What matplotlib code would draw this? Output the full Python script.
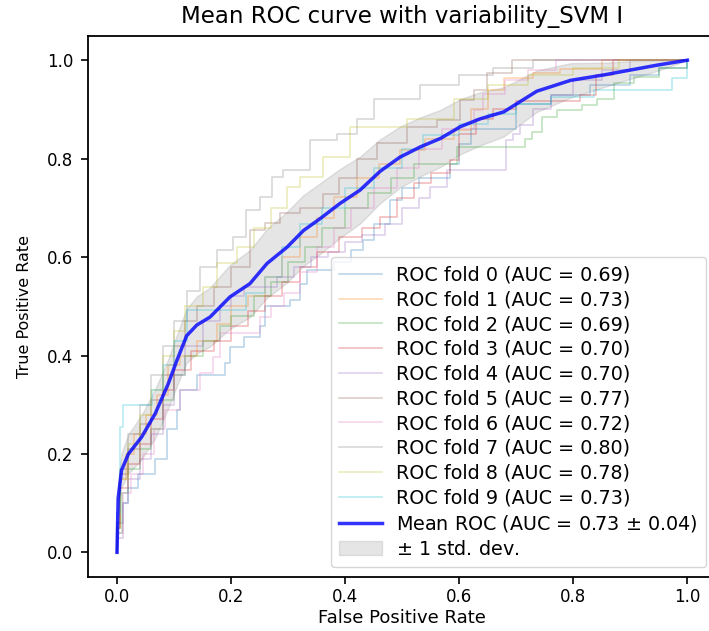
"""Mean ROC curve with variability (10 folds)"""

import numpy as np
import matplotlib
matplotlib.use("Agg")
import matplotlib.pyplot as plt

TITLE = "Mean ROC curve with variability_SVM I"

# per-fold ROC staircases: at each fpr the curve rises to tpr
fold_fpr = [
    [0, 0, 0.01, 0.02, 0.037, 0.067, 0.087, 0.105, 0.11, 0.14, 0.19, 0.198, 0.222, 0.251, 0.26, 0.304,
     0.321, 0.333, 0.38, 0.41, 0.432, 0.45, 0.479, 0.50, 0.53, 0.584, 0.60, 0.62, 0.70, 0.76, 0.83,
     0.90, 0.95, 1.0],
    [0, 0, 0.005, 0.015, 0.03, 0.05, 0.07, 0.09, 0.11, 0.14, 0.175, 0.2, 0.23, 0.26, 0.29, 0.32, 0.35,
     0.38, 0.42, 0.46, 0.496, 0.54, 0.59, 0.62, 0.65, 0.678, 0.73, 0.777, 0.85, 1.0],
    [0, 0, 0.008, 0.02, 0.04, 0.06, 0.08, 0.1, 0.12, 0.15, 0.18, 0.2, 0.24, 0.27, 0.3, 0.33, 0.36, 0.40,
     0.44, 0.48, 0.52, 0.596, 0.716, 0.727, 0.745, 0.771, 0.815, 0.841, 0.871, 0.906, 0.95, 1.0],
    [0, 0, 0.005, 0.02, 0.04, 0.06, 0.08, 0.1, 0.13, 0.17, 0.2, 0.23, 0.26, 0.29, 0.32, 0.35, 0.39, 0.43,
     0.461, 0.49, 0.52, 0.55, 0.584, 0.60, 0.63, 0.66, 0.70, 0.812, 0.84, 0.87, 1.0],
    [0, 0, 0.01, 0.02, 0.04, 0.06, 0.08, 0.1, 0.12, 0.15, 0.18, 0.2, 0.222, 0.28, 0.31, 0.34, 0.37, 0.40,
     0.43, 0.47, 0.50, 0.53, 0.549, 0.578, 0.682, 0.695, 0.707, 0.73, 0.76, 0.80, 0.85, 0.9, 1.0],
    [0, 0, 0.005, 0.02, 0.04, 0.06, 0.08, 0.1, 0.12, 0.14, 0.17, 0.2, 0.233, 0.26, 0.286, 0.32, 0.362,
     0.39, 0.42, 0.456, 0.508, 0.561, 0.602, 0.625, 0.649, 0.692, 1.0],
    [0, 0, 0.01, 0.025, 0.045, 0.065, 0.085, 0.11, 0.146, 0.169, 0.18, 0.251, 0.27, 0.292, 0.32, 0.35,
     0.38, 0.41, 0.45, 0.49, 0.53, 0.57, 0.625, 0.642, 0.68, 0.72, 0.77, 1.0],
    [0, 0, 0.005, 0.02, 0.04, 0.06, 0.08, 0.1, 0.122, 0.146, 0.175, 0.204, 0.227, 0.251, 0.271, 0.291,
     0.339, 0.385, 0.42, 0.45, 0.532, 0.6, 0.66, 0.73, 1.0],
    [0, 0, 0.005, 0.02, 0.04, 0.06, 0.08, 0.1, 0.12, 0.15, 0.175, 0.21, 0.24, 0.27, 0.298, 0.321, 0.362,
     0.409, 0.508, 0.59, 0.65, 0.72, 0.80, 0.88, 1.0],
    [0, 0, 0.005, 0.011, 0.061, 0.08, 0.10, 0.122, 0.227, 0.26, 0.29, 0.321, 0.36, 0.40, 0.45, 0.50,
     0.537, 0.6, 0.65, 0.70, 0.76, 0.836, 0.973, 1.0],
]
fold_tpr = [
    [0, 0.06, 0.10, 0.13, 0.16, 0.19, 0.25, 0.29, 0.33, 0.36, 0.384, 0.417, 0.438, 0.46, 0.50, 0.512,
     0.546, 0.573, 0.59, 0.614, 0.634, 0.668, 0.715, 0.74, 0.76, 0.79, 0.83, 0.86, 0.91, 0.93, 0.95,
     0.97, 0.985, 1.0],
    [0, 0.05, 0.15, 0.2, 0.24, 0.28, 0.32, 0.38, 0.40, 0.43, 0.465, 0.50, 0.52, 0.56, 0.60, 0.64, 0.68,
     0.722, 0.76, 0.79, 0.817, 0.84, 0.858, 0.90, 0.94, 0.963, 0.975, 0.983, 1.0, 1.0],
    [0, 0.04, 0.12, 0.17, 0.21, 0.25, 0.31, 0.36, 0.40, 0.43, 0.46, 0.48, 0.52, 0.55, 0.59, 0.62, 0.66,
     0.70, 0.73, 0.76, 0.79, 0.824, 0.84, 0.855, 0.885, 0.898, 0.909, 0.922, 0.953, 0.966, 0.985, 1.0],
    [0, 0.05, 0.13, 0.18, 0.22, 0.27, 0.33, 0.37, 0.41, 0.43, 0.46, 0.49, 0.52, 0.55, 0.58, 0.61, 0.64,
     0.66, 0.682, 0.72, 0.75, 0.77, 0.797, 0.85, 0.88, 0.90, 0.917, 0.93, 0.97, 1.0, 1.0],
    [0, 0.03, 0.10, 0.15, 0.19, 0.24, 0.30, 0.36, 0.42, 0.47, 0.50, 0.52, 0.539, 0.56, 0.58, 0.60, 0.61,
     0.63, 0.645, 0.668, 0.70, 0.72, 0.742, 0.776, 0.837, 0.851, 0.868, 0.90, 0.93, 0.96, 0.98, 1.0, 1.0],
    [0, 0.06, 0.16, 0.21, 0.26, 0.31, 0.36, 0.42, 0.47, 0.50, 0.54, 0.58, 0.654, 0.67, 0.689, 0.70, 0.729,
     0.76, 0.80, 0.831, 0.865, 0.878, 0.919, 0.939, 0.973, 1.0, 1.0],
    [0, 0.04, 0.12, 0.16, 0.20, 0.25, 0.29, 0.33, 0.364, 0.397, 0.445, 0.478, 0.50, 0.526, 0.57, 0.62,
     0.66, 0.70, 0.74, 0.78, 0.82, 0.86, 0.898, 0.932, 0.96, 0.98, 1.0, 1.0],
    [0, 0.05, 0.17, 0.24, 0.30, 0.36, 0.42, 0.47, 0.532, 0.58, 0.614, 0.641, 0.695, 0.722, 0.763, 0.776,
     0.837, 0.851, 0.881, 0.922, 0.95, 0.97, 0.985, 1.0, 1.0],
    [0, 0.05, 0.15, 0.22, 0.28, 0.33, 0.40, 0.45, 0.50, 0.54, 0.587, 0.62, 0.66, 0.70, 0.743, 0.763, 0.804,
     0.865, 0.881, 0.922, 0.95, 0.97, 0.985, 1.0, 1.0],
    [0, 0.08, 0.255, 0.299, 0.33, 0.38, 0.43, 0.492, 0.526, 0.56, 0.62, 0.668, 0.70, 0.74, 0.78, 0.82,
     0.848, 0.87, 0.89, 0.91, 0.925, 0.939, 0.963, 1.0],
]
fold_auc = [0.69, 0.73, 0.69, 0.70, 0.70, 0.77, 0.72, 0.80, 0.78, 0.73]

# mean curve and its spread
mean_fpr = [0, 0.002, 0.008, 0.02, 0.043, 0.067, 0.09, 0.105, 0.122, 0.14, 0.163, 0.198, 0.233,
            0.263, 0.298, 0.327, 0.356, 0.391, 0.426, 0.461, 0.496, 0.532, 0.567, 0.602, 0.637,
            0.678, 0.736, 0.795, 0.853, 0.9, 0.947, 1.0]
mean_tpr = [0, 0.11, 0.167, 0.20, 0.234, 0.282, 0.343, 0.39, 0.44, 0.462, 0.478, 0.519, 0.546,
            0.587, 0.62, 0.654, 0.678, 0.709, 0.736, 0.774, 0.803, 0.824, 0.841, 0.865, 0.881,
            0.895, 0.937, 0.959, 0.97, 0.98, 0.99, 1.0]
std_tpr = [0, 0.03, 0.035, 0.04, 0.045, 0.05, 0.05, 0.052, 0.055, 0.058, 0.06, 0.065, 0.068,
           0.07, 0.072, 0.072, 0.072, 0.07, 0.068, 0.065, 0.062, 0.06, 0.058, 0.056, 0.054,
           0.05, 0.042, 0.035, 0.025, 0.018, 0.012, 0]
mean_auc = 0.73
std_auc = 0.04

colors = plt.rcParams["axes.prop_cycle"].by_key()["color"]

fig = plt.figure(figsize=(7.09, 6.31), dpi=100)
ax = fig.add_axes([0.1248, 0.0856, 0.885, 0.858])

for i in range(len(fold_fpr)):
    ax.plot(fold_fpr[i], fold_tpr[i], drawstyle="steps-post", lw=1.2, alpha=0.3,
            color=colors[i % len(colors)], label=f"ROC fold {i} (AUC = {fold_auc[i]:0.2f})")

ax.plot(mean_fpr, mean_tpr, color="b", lw=2.5, alpha=0.8,
        label=r"Mean ROC (AUC = %0.2f $\pm$ %0.2f)" % (mean_auc, std_auc))

mean_arr = np.array(mean_tpr)
std_arr = np.array(std_tpr)
upper = np.minimum(mean_arr + std_arr, 1)
lower = np.maximum(mean_arr - std_arr, 0)
ax.fill_between(mean_fpr, lower, upper, color="grey", alpha=0.2, label=r"$\pm$ 1 std. dev.")

ax.set_xlim(-0.05, 1.05)
ax.set_ylim(-0.05, 1.05)
ax.set_title(TITLE, fontsize=16.5, pad=9)
ax.set_xlabel("False Positive Rate", fontsize=13, labelpad=2)
ax.set_ylabel("True Positive Rate", fontsize=11.5, labelpad=11)
ax.tick_params(labelsize=12, length=5, width=1.2)
ax.tick_params(axis="x", pad=3)
ax.tick_params(axis="y", pad=6)
for sp in ax.spines.values():
    sp.set_linewidth(1.3)
ax.legend(loc="lower right", fontsize=13.8, labelspacing=0.3, handlelength=2.2,
          handletextpad=0.75, borderpad=0.45)

fig.savefig("out.png", dpi=100)
